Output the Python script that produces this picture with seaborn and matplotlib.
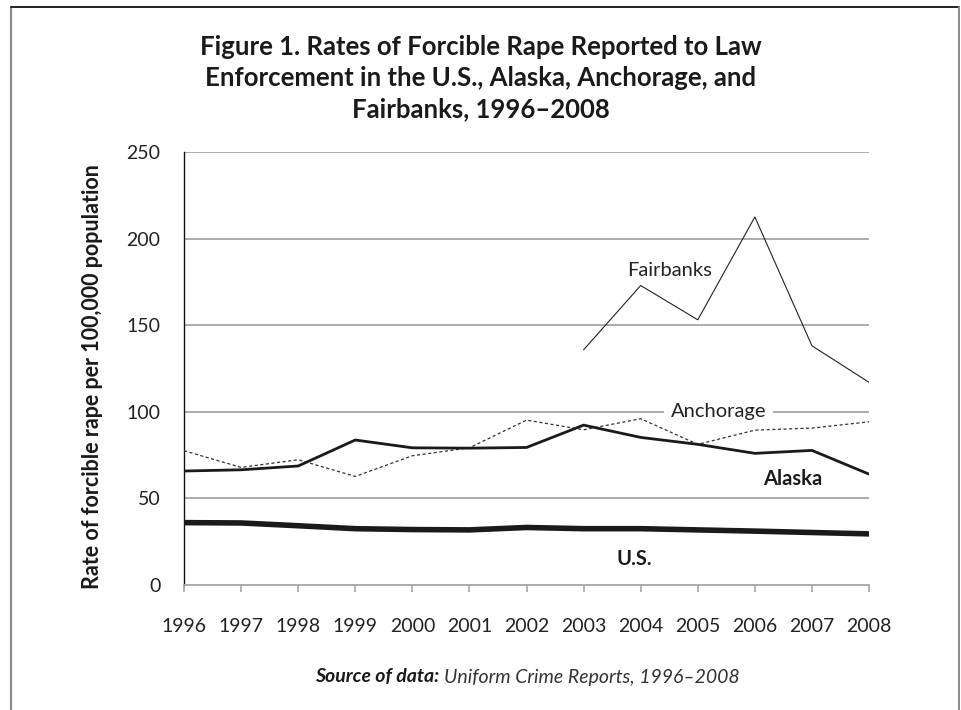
import numpy as np
import pandas as pd
import matplotlib
matplotlib.use("Agg")
import matplotlib.pyplot as plt
from matplotlib.lines import Line2D
import seaborn as sns

# Data
years = list(range(1996, 2009))
us = [36.0, 35.8, 34.2, 32.5, 32.0, 31.8, 33.2, 32.5, 32.5, 31.8, 31.1, 30.3, 29.5]
alaska = [65.8, 66.5, 68.7, 83.7, 79.2, 79.0, 79.4, 92.3, 85.2, 81.2, 76.0, 77.7, 64.0]
anchorage = [77.5, 67.9, 72.3, 62.7, 74.6, 79.2, 95.2, 89.6, 96.0, 81.2, 89.4, 90.6, 94.2]
fairbanks_years = list(range(2003, 2009))
fairbanks = [135.8, 172.9, 153.1, 212.5, 138.1, 117.0]
y_ticks = [0, 50, 100, 150, 200, 250]

sns.set_style("white")
plt.rcParams['font.family'] = ['Lato', 'DejaVu Sans']

fig = plt.figure(figsize=(9.61, 7.10), dpi=100)
ax = fig.add_axes([0.1915, 0.1761, 0.7128, 0.6098])

# gridlines first so the lines sit on top
for v in y_ticks[1:]:
    ax.axhline(v, color="#a6a6a6", lw=1.3, zorder=1)

sns.lineplot(x=years, y=us, ax=ax, color="#1a1a1a", lw=4.0, zorder=5)
sns.lineplot(x=years, y=alaska, ax=ax, color="#1a1a1a", lw=2.0, zorder=4)
sns.lineplot(x=years, y=anchorage, ax=ax, color="#333333", lw=0.9, zorder=3,
             linestyle=(0, (2.5, 2)))
sns.lineplot(x=fairbanks_years, y=fairbanks, ax=ax, color="#222222", lw=0.8, zorder=3)

ax.set_xlim(1996, 2008)
ax.set_ylim(0, 250)
ax.set_xticks(years)
ax.set_xticklabels([str(y) for y in years])
ax.set_yticks(y_ticks)
ax.tick_params(axis="x", length=5, width=1.2, color="#a6a6a6", pad=19,
               labelsize=14, labelcolor="#222222", bottom=True)
ax.tick_params(axis="y", length=0, pad=17, labelsize=14, labelcolor="#222222")

for s in ["top", "right"]:
    ax.spines[s].set_visible(False)
ax.spines["left"].set_color("#111111")
ax.spines["left"].set_linewidth(1.0)
ax.spines["bottom"].set_color("#a6a6a6")
ax.spines["bottom"].set_linewidth(1.3)
ax.set_xlabel("")
ax.set_ylabel("")

# series labels
ax.text(2004.5, 181.5, "Fairbanks", fontsize=14.5, color="#222222", ha="center", va="center")
ax.text(2005.36, 100, "Anchorage", fontsize=14.5, color="#222222", ha="center", va="center",
        bbox=dict(facecolor="white", edgecolor="none", pad=5), zorder=6)
ax.text(2006.67, 61, "Alaska", fontsize=14.5, fontweight="bold", color="#1a1a1a",
        ha="center", va="center")
ax.text(2003.88, 15, "U.S.", fontsize=14.5, fontweight="bold", color="#1a1a1a",
        ha="center", va="center")

fig.text(0.5, 1 - 78 / 710, "Figure 1. Rates of Forcible Rape Reported to Law\n"
         "Enforcement in the U.S., Alaska, Anchorage, and\nFairbanks, 1996\u20132008",
         ha="center", va="center", fontsize=18.5, fontweight="bold", color="#1a1a1a",
         linespacing=1.36)
fig.text(93 / 961, 1 - 377 / 710, "Rate of forcible rape per 100,000 population",
         rotation=90, ha="center", va="center", fontsize=15.5, fontweight="bold",
         color="#1a1a1a")

src_y = 1 - 677 / 710
t1 = fig.text(315 / 961, src_y, "Source of data:", ha="left", va="center",
              fontsize=14, fontweight="bold", style="italic", color="#1a1a1a")
fig.canvas.draw()
bb = t1.get_window_extent(renderer=fig.canvas.get_renderer())
fig.text((bb.x1 + 5) / 961, src_y, "Uniform Crime Reports, 1996\u20132008", ha="left",
         va="center", fontsize=14, style="italic", color="#333333")

# outer frame (left, top, right)
fig.add_artist(Line2D([11 / 961, 11 / 961], [0, 1 - 7 / 710], color="#8c8c8c", lw=1.6))
fig.add_artist(Line2D([11 / 961, 959 / 961], [1 - 7 / 710, 1 - 7 / 710], color="#222222", lw=1.4))
fig.add_artist(Line2D([959 / 961, 959 / 961], [0, 1 - 7 / 710], color="#8c8c8c", lw=1.4))

fig.savefig("out.png", dpi=100)
